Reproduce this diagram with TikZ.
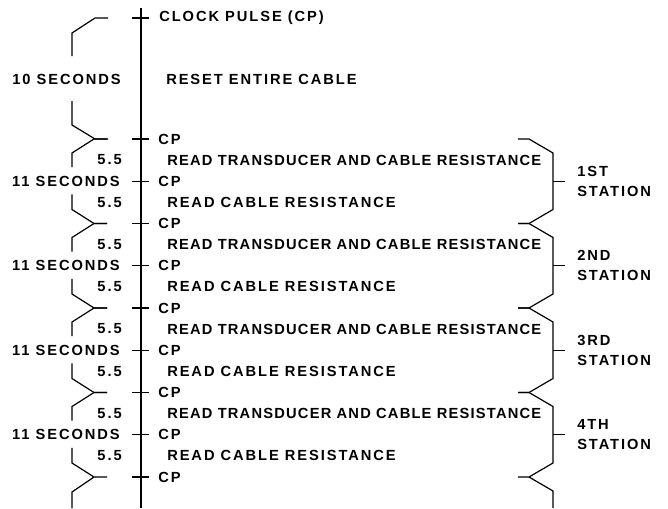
\documentclass[tikz,border=0pt]{standalone}
\usepackage{fontspec}
\setmainfont[LetterSpace=13.2]{Liberation Sans}
\usepackage{tikz}
\usetikzlibrary{positioning}
\tikzset{
  txt/.style={font=\fontsize{11pt}{13pt}\selectfont\bfseries, inner sep=0pt},
  lbl/.style={txt, anchor=west},
  num/.style={txt, anchor=east},
  stn/.style={txt, anchor=west, align=left},
  timeline/.style={line width=1pt},
  brace/.style={line width=0.9pt, line join=miter},
}

\begin{document}
\begin{tikzpicture}[x=0.75pt,y=-0.75pt]
\useasboundingbox (0,0) rectangle (668,508);
\coordinate (top) at (141,8);
\coordinate (bot) at (141,508);
\draw[timeline] (top) -- (bot);
% start of cycle
\draw[timeline] (132,18) -- (149,18);
\node[lbl] (clock) at (159,18) {CLOCK PULSE (CP)};
\node[lbl] (reset) at (166,79) {RESET ENTIRE CABLE};
\node[num] (ten) at (121,79) {10 SECONDS};
\draw[brace] (108,18) -- (95,18) -- (72,33) -- (72,56);
\draw[brace] (72,101) -- (72,125) -- (95,139) -- (108,139);
% clock pulses
\foreach \k in {0,...,8} {
  \pgfmathsetmacro\c{139+42.25*\k}
  \draw[timeline] (132,\c) -- (149,\c);
  \node[lbl] (cp\k) at (158,\c) {CP};
}
% one station every two pulses
\foreach \s/\name in {1/1ST,2/2ND,3/3RD,4/4TH} {
  \pgfmathsetmacro\t{139+84.5*(\s-1)}
  \pgfmathsetmacro\m{\t+42.25}
  \pgfmathsetmacro\b{\t+84.5}
  \node[lbl] (rtc\s) at (167,\t+21) {\addfontfeature{LetterSpace=8.3}READ TRANSDUCER AND CABLE RESISTANCE};
  \node[num] (na\s) at (122,\t+21) {5.5};
  \node[num] (sec\s) at (120,\m) {11 SECONDS};
  \node[lbl] (rc\s) at (167,\m+21) {READ CABLE RESISTANCE};
  \node[num] (nb\s) at (122,\m+21) {5.5};
  \node[stn] (st\s) at (577,\m) {\name\\[2pt]STATION};
  \draw[brace] (107,\t) -- (94,\t) -- (72,\t+14) -- (72,\t+28);
  \draw[brace] (72,\m+13) -- (72,\b-14) -- (94,\b) -- (107,\b);
  \draw[brace] (518,\t) -- (529,\t) -- (553,\t+14) -- (553,\b-14) -- (529,\b) -- (518,\b);
  \draw[brace] (553,\m) -- (565,\m);
}
% open ends at the bottom
\draw[brace] (94,477) -- (72,492) -- (72,508);
\draw[brace] (529,477) -- (553,491) -- (553,508);
\end{tikzpicture}
\end{document}
